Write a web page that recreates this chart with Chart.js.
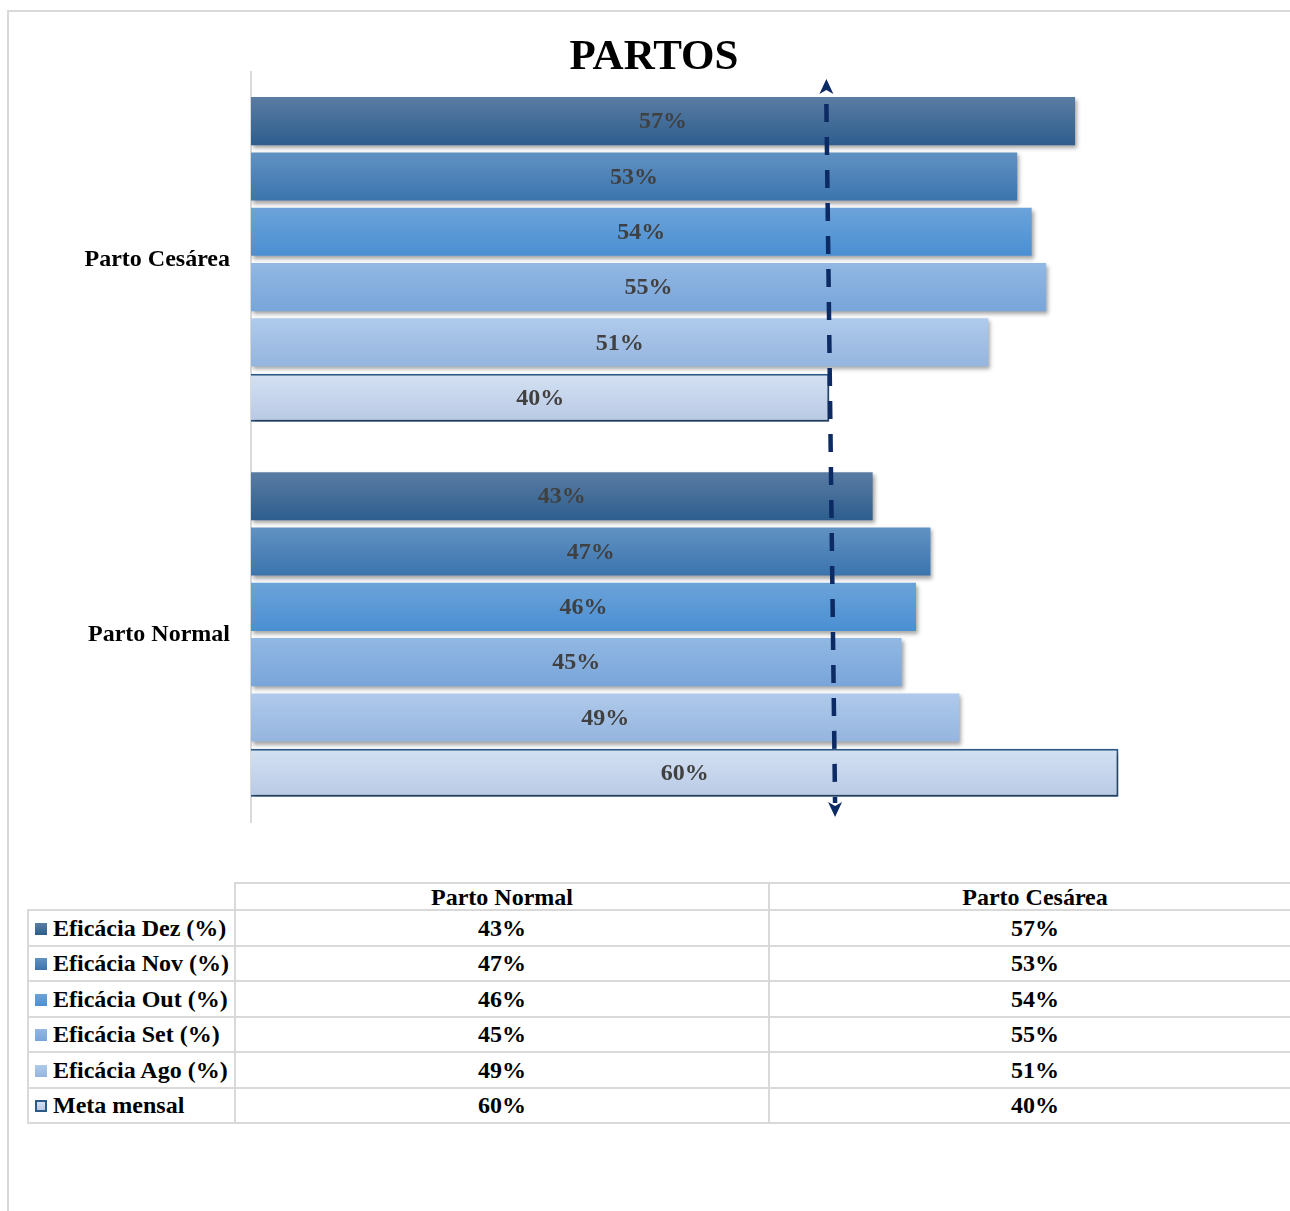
<!DOCTYPE html>
<html>
<head>
<meta charset="utf-8">
<script src="https://cdn.jsdelivr.net/npm/chart.js@4/dist/chart.umd.min.js"></script>
<style>
  body { margin: 0; background: #fff; overflow: hidden; font-family: 'Liberation Serif', serif; }
  #moldura { position: absolute; left: 7px; top: 10px; width: 1300px; height: 1220px;
             border-top: 2px solid #d9d9d9; border-left: 2px solid #d9d9d9; }
  #grafico { position: absolute; left: 0; top: 0; }
  #tabela { position: absolute; left: 27px; top: 882px; width: 1273px; table-layout: fixed; border-collapse: collapse;
            font-family: 'Liberation Serif', serif; font-weight: bold; font-size: 24px; color: #000; }
  #tabela td { border: 2px solid #d9d9d9; padding: 0; line-height: 1; white-space: nowrap; overflow: hidden; }
  #tabela td.num { text-align: center; }
  #tabela td.serie { padding-left: 6px; }
  #tabela tr.cab td { height: 25px; text-align: center; }
  #tabela tr.cab td.vazio { border-top: hidden; border-left: hidden; }
  #tabela tr.linha td { height: 33.5px; }
  .marca { display: inline-block; width: 12px; height: 12px; margin-right: 6px; vertical-align: 1px; box-sizing: border-box; }
</style>
</head>
<body>
<div id="moldura"></div>
<canvas id="grafico" width="1290" height="840"></canvas>
<table id="tabela"></table>
<script>
// ordem do gráfico (de cima para baixo)
const categorias = ['Parto Cesárea', 'Parto Normal'];
const series = ['Eficácia Dez (%)', 'Eficácia Nov (%)', 'Eficácia Out (%)', 'Eficácia Set (%)', 'Eficácia Ago (%)', 'Meta mensal'];
const dez = [57, 43];
const nov = [53, 47];
const out = [54, 46];
const set = [55, 45];
const ago = [51, 49];
const meta = [40, 60];
const linhaMeta = [39.8, 40.4]; // seta tracejada (topo, base)

const valores = [dez, nov, out, set, ago, meta];
const cores = [
  ['#5a7ca3', '#2d5e8e'],
  ['#6192c3', '#3b74ad'],
  ['#6ca3d9', '#4a8fd3'],
  ['#92b8e3', '#79a5da'],
  ['#afcaeb', '#95b5df'],
  ['#d4e1f3', '#b8c9e4']
];
const fonte = 'Liberation Serif';

function degrade(par) {
  return c => {
    const el = c.element;
    if (!el || el.y == null || !el.height) return par[1];
    const g = c.chart.ctx.createLinearGradient(0, el.y - el.height / 2, 0, el.y + el.height / 2);
    g.addColorStop(0, par[0]);
    g.addColorStop(1, par[1]);
    return g;
  };
}

const sombra = {
  id: 'sombra',
  beforeDatasetsDraw(chart) {
    const ctx = chart.ctx;
    ctx.save();
    ctx.shadowColor = 'rgba(0,0,0,0.35)';
    ctx.shadowOffsetX = 2;
    ctx.shadowOffsetY = 3;
    ctx.shadowBlur = 4;
  },
  afterDatasetsDraw(chart) {
    chart.ctx.restore();
  }
};

const rotulos = {
  id: 'rotulos',
  afterDatasetsDraw(chart) {
    const ctx = chart.ctx;
    ctx.save();
    ctx.font = 'bold 24px "' + fonte + '"';
    ctx.fillStyle = '#404040';
    ctx.textAlign = 'center';
    ctx.textBaseline = 'middle';
    chart.data.datasets.forEach((ds, i) => {
      chart.getDatasetMeta(i).data.forEach((bar, j) => {
        ctx.fillText(ds.data[j] + '%', (bar.base + bar.x) / 2, bar.y + 1);
      });
    });
    ctx.restore();
  }
};

const seta = {
  id: 'seta',
  afterDraw(chart) {
    const { ctx, chartArea, scales } = chart;
    const x1 = scales.x.getPixelForValue(linhaMeta[0]);
    const x2 = scales.x.getPixelForValue(linhaMeta[1]);
    const y1 = chartArea.top + 7;
    const y2 = chartArea.bottom - 5;
    const cor = '#0c2a63';
    ctx.save();
    ctx.strokeStyle = cor;
    ctx.fillStyle = cor;
    ctx.lineWidth = 4.5;
    ctx.setLineDash([18, 15]);
    ctx.beginPath();
    ctx.moveTo(x1, y1 + 25);
    ctx.lineTo(x2, y2 - 14);
    ctx.stroke();
    ctx.setLineDash([]);
    // pontas
    ctx.beginPath();
    ctx.moveTo(x1, y1);
    ctx.lineTo(x1 - 7, y1 + 15);
    ctx.lineTo(x1, y1 + 11);
    ctx.lineTo(x1 + 7, y1 + 15);
    ctx.closePath();
    ctx.fill();
    ctx.beginPath();
    ctx.moveTo(x2, y2);
    ctx.lineTo(x2 - 7, y2 - 15);
    ctx.lineTo(x2, y2 - 11);
    ctx.lineTo(x2 + 7, y2 - 15);
    ctx.closePath();
    ctx.fill();
    ctx.restore();
  }
};

const grafico = new Chart(document.getElementById('grafico'), {
  type: 'bar',
  data: {
    labels: categorias,
    datasets: series.map((nome, i) => ({
      label: nome,
      data: valores[i],
      backgroundColor: degrade(cores[i]),
      borderColor: '#2c5a88',
      borderWidth: i === 5 ? 2 : 0,
      categoryPercentage: 0.885,
      barPercentage: 0.87
    }))
  },
  options: {
    indexAxis: 'y',
    responsive: false,
    devicePixelRatio: 1,
    animation: false,
    layout: { padding: { left: 45, right: 27, top: 0, bottom: 18 } },
    plugins: {
      legend: { display: false },
      tooltip: { enabled: false },
      title: {
        display: true,
        text: 'PARTOS',
        color: '#000',
        font: { family: fonte, size: 43, weight: 'bold', lineHeight: 0.65 },
        padding: { top: 44, bottom: 0 }
      }
    },
    scales: {
      x: { display: false, min: 0, max: 70 },
      y: {
        grid: { display: false, drawTicks: false },
        border: { display: true, color: '#d9d9d9', width: 2 },
        ticks: { color: '#000', padding: 21, font: { family: fonte, size: 24, weight: 'bold' } },
        afterFit(s) {
          s.width = 251 - 45;
          s.paddingTop = 0;
          s.paddingBottom = 0;
        }
      }
    }
  },
  plugins: [sombra, rotulos, seta]
});
grafico.update();

// tabela de dados (colunas na ordem Parto Normal, Parto Cesárea)
const colunas = categorias.map((c, i) => i).reverse();
const tabela = document.getElementById('tabela');
let html = '<colgroup><col style="width:207px"><col style="width:534px"><col style="width:532px"></colgroup>';
html += '<tr class="cab"><td class="vazio"></td>' + colunas.map(i => '<td>' + categorias[i] + '</td>').join('') + '</tr>';
series.forEach((nome, s) => {
  const fundo = 'linear-gradient(' + cores[s][0] + ',' + cores[s][1] + ')';
  const borda = s === 5 ? 'border:2px solid #2c5a88;' : '';
  html += '<tr class="linha"><td class="serie"><span class="marca" style="background:' + fundo + ';' + borda + '"></span>' + nome + '</td>' +
    colunas.map(i => '<td class="num">' + valores[s][i] + '%</td>').join('') + '</tr>';
});
tabela.innerHTML = html;
</script>
</body>
</html>
